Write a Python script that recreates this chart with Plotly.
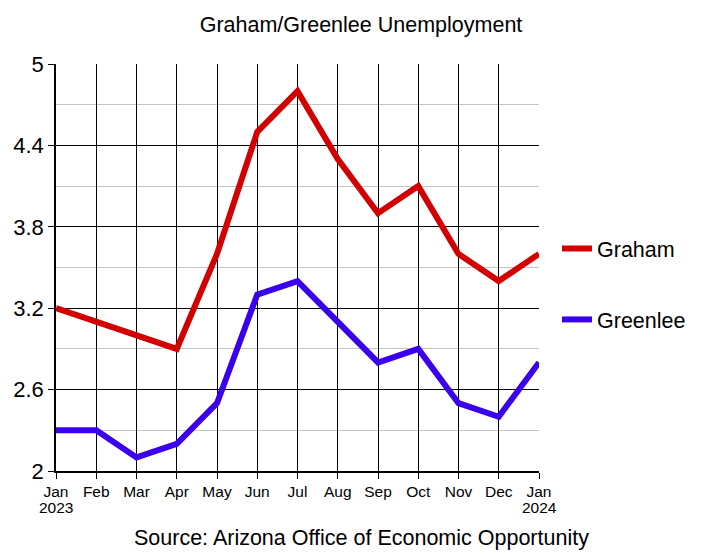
import plotly.graph_objects as go

months = ["Jan", "Feb", "Mar", "Apr", "May", "Jun", "Jul", "Aug", "Sep", "Oct", "Nov", "Dec", "Jan"]
years = {0: "2023", 12: "2024"}
graham = [3.2, 3.1, 3.0, 2.9, 3.6, 4.5, 4.8, 4.3, 3.9, 4.1, 3.6, 3.4, 3.6]
greenlee = [2.3, 2.3, 2.1, 2.2, 2.5, 3.3, 3.4, 3.1, 2.8, 2.9, 2.5, 2.4, 2.8]
y_major = [2, 2.6, 3.2, 3.8, 4.4, 5]
y_minor = [2.3, 2.9, 3.5, 4.1, 4.7]

x = list(range(len(months)))
font = "Liberation Sans, Arial, sans-serif"

L, R, T, B = 56, 181, 64, 84
plot_w = 720 - L - R
plot_h = 555 - T - B

fig = go.Figure()
fig.add_trace(go.Scatter(x=x, y=graham, mode="lines", name="Graham",
                         line=dict(color="#d20000", width=6), legendgroup="a"))
fig.add_trace(go.Scatter(x=x, y=greenlee, mode="lines", name="Greenlee",
                         line=dict(color="#3a00ee", width=6), legendgroup="b"))

annotations = [dict(text="Source: Arizona Office of Economic Opportunity",
                    xref="paper", yref="paper",
                    x=(361 - L) / plot_w, y=-(538 - (555 - B)) / plot_h,
                    xanchor="center", yanchor="middle", showarrow=False,
                    font=dict(size=21.5))]
for xi, yr in years.items():
    annotations.append(dict(text=yr, xref="x", yref="paper", x=xi,
                            y=-(507 - (555 - B)) / plot_h, xanchor="center",
                            yanchor="middle", showarrow=False, font=dict(size=15.5)))

fig.update_layout(
    width=720, height=555,
    margin=dict(l=L, r=R, t=T, b=B),
    paper_bgcolor="white", plot_bgcolor="white",
    font=dict(family=font, color="black", size=16),
    title=dict(text="Graham/Greenlee Unemployment", x=361 / 720, xref="container",
               y=1 - 24 / 555, yref="container", xanchor="center", yanchor="middle",
               font=dict(size=21.5, color="black")),
    showlegend=True,
    legend=dict(x=(557 - L) / plot_w, y=1 - (241 - 13 - T) / plot_h,
                xanchor="left", yanchor="top",
                font=dict(size=21.5), traceorder="grouped", tracegroupgap=40,
                itemwidth=30, bgcolor="rgba(0,0,0,0)", borderwidth=0),
    xaxis=dict(range=[0, 12], tickvals=x, ticktext=months,
               showgrid=True, gridcolor="black", gridwidth=1.3,
               showline=True, linecolor="black", linewidth=1.5, mirror=False,
               ticks="outside", ticklen=6, tickcolor="black",
               tickfont=dict(size=15.5), zeroline=False),
    yaxis=dict(range=[2, 5], tickvals=y_major, ticktext=[str(v) for v in y_major],
               showgrid=True, gridcolor="black", gridwidth=1.3,
               showline=True, linecolor="black", linewidth=1.5,
               ticks="outside", ticklen=6, tickcolor="black",
               tickfont=dict(size=22), zeroline=False,
               minor=dict(tickvals=y_minor, showgrid=True, gridcolor="#c4c4c4",
                          gridwidth=1, ticks="")),
    annotations=annotations,
)
fig.write_html("out.html")
